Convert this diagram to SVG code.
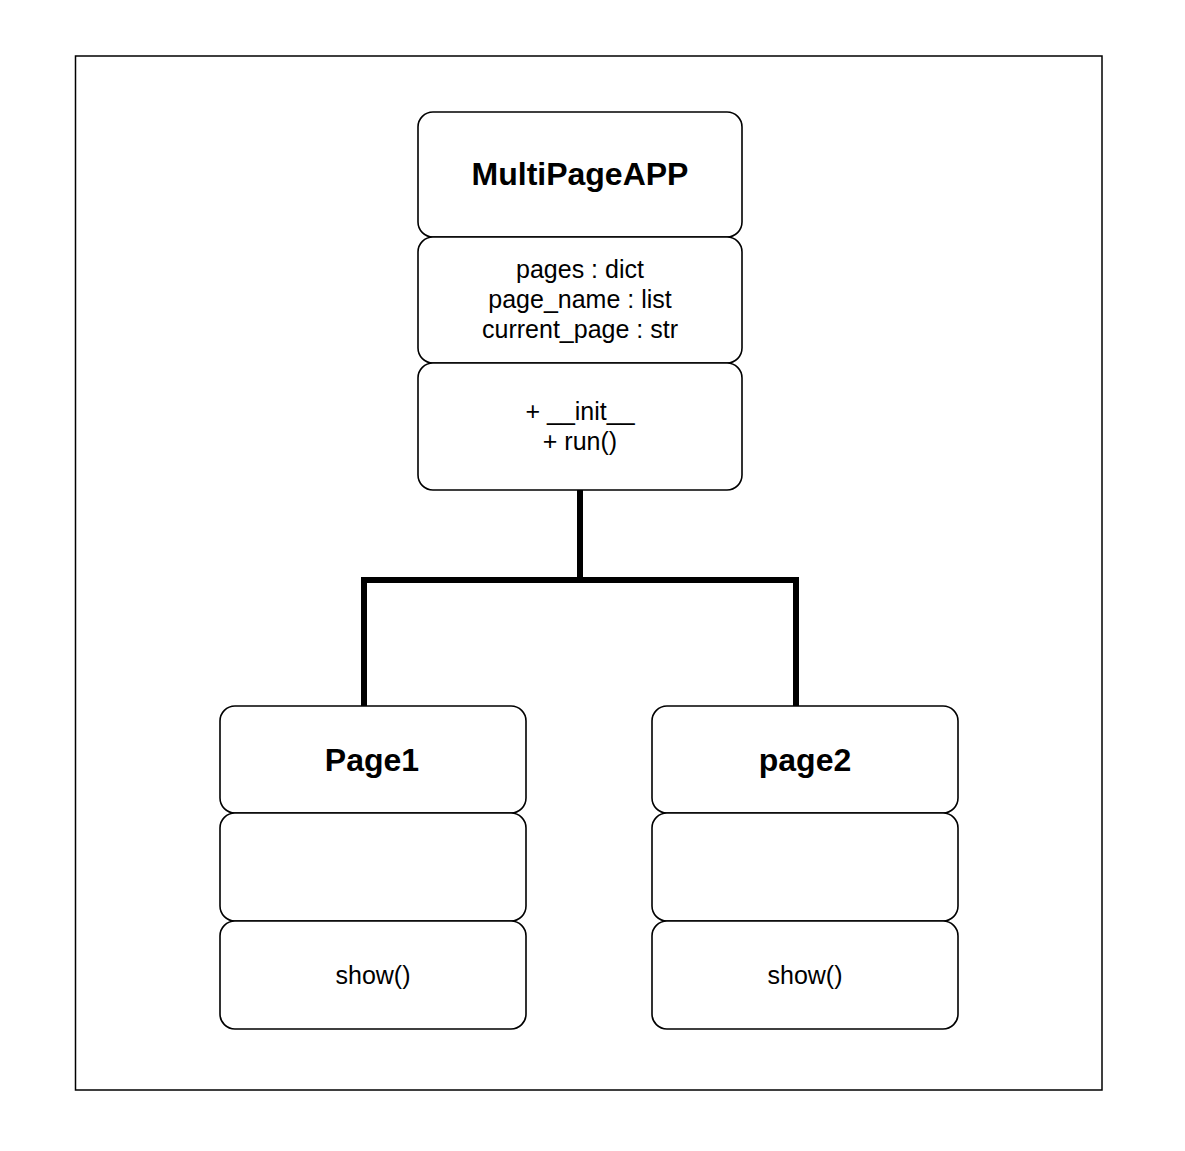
<svg xmlns="http://www.w3.org/2000/svg" width="1185" height="1151" viewBox="0 0 1185 1151">
<style>
.box{fill:#ffffff;stroke:#000000;stroke-width:1.6}
.t{font-family:"Liberation Sans",Arial,sans-serif;fill:#000000;text-anchor:middle}
.title{font-size:32px;font-weight:bold}
.body{font-size:25px}
.conn{fill:none;stroke:#000000;stroke-width:6;stroke-linejoin:miter}
</style>
<rect x="0" y="0" width="1185" height="1151" fill="#ffffff"/>
<rect id="frame" x="75.5" y="56" width="1026.5" height="1034" fill="none" stroke="#000000" stroke-width="1.5"/>
<g id="connectors">
<path class="conn" d="M580,490 V580 H364 V708"/>
<path class="conn" d="M580,580 H796 V708"/>
</g>
<g id="MultiPageAPP">
<rect class="box" x="418" y="112" width="324" height="125" rx="15" ry="15"/>
<text class="t title" x="580" y="185">MultiPageAPP</text>
</g>
<g id="MultiPageAPP-attrs">
<rect class="box" x="418" y="237" width="324" height="126" rx="15" ry="15"/>
<text class="t body" x="580" y="278">pages : dict</text>
<text class="t body" x="580" y="308">page_name : list</text>
<text class="t body" x="580" y="338">current_page : str</text>
</g>
<g id="MultiPageAPP-methods">
<rect class="box" x="418" y="363" width="324" height="127" rx="15" ry="15"/>
<text class="t body" x="580" y="420">+ __init__</text>
<text class="t body" x="580" y="450">+ run()</text>
</g>
<g id="Page1">
<rect class="box" x="220" y="706" width="306" height="107" rx="15" ry="15"/>
<text class="t title" x="372" y="771">Page1</text>
</g>
<g id="Page1-attrs">
<rect class="box" x="220" y="813" width="306" height="108" rx="15" ry="15"/>
</g>
<g id="Page1-methods">
<rect class="box" x="220" y="921" width="306" height="108" rx="15" ry="15"/>
<text class="t body" x="373" y="984">show()</text>
</g>
<g id="page2">
<rect class="box" x="652" y="706" width="306" height="107" rx="15" ry="15"/>
<text class="t title" x="805" y="771">page2</text>
</g>
<g id="page2-attrs">
<rect class="box" x="652" y="813" width="306" height="108" rx="15" ry="15"/>
</g>
<g id="page2-methods">
<rect class="box" x="652" y="921" width="306" height="108" rx="15" ry="15"/>
<text class="t body" x="805" y="984">show()</text>
</g>
</svg>
